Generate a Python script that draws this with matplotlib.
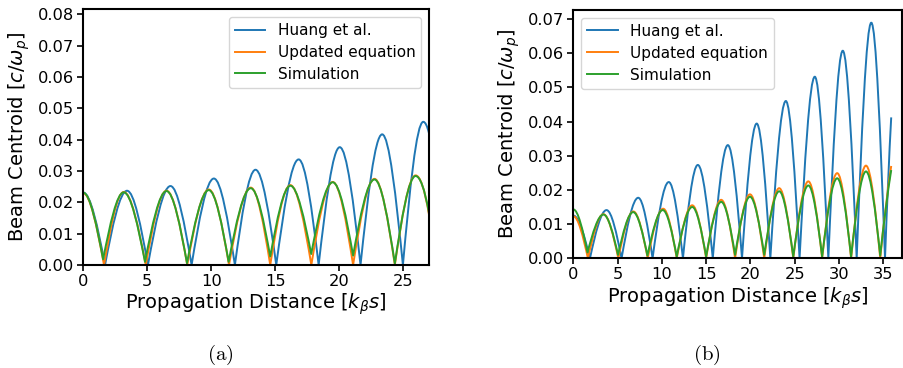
import matplotlib
matplotlib.use('Agg')
import matplotlib.pyplot as plt
from matplotlib.path import Path
from matplotlib.patches import PathPatch
from matplotlib.lines import Line2D
from matplotlib.ticker import FormatStrFormatter
import numpy as np

plt.rcParams['mathtext.fontset'] = 'dejavusans'
plt.rcParams['font.family'] = ['DejaVu Sans']

labels = ['Huang et al.', 'Updated equation', 'Simulation']
colors = ['#1f77b4', '#ff7f0e', '#2ca02c']

# ---- Panel (a): alternating extrema (peak, minimum, peak, ...); last point = end of data
a_huang_x = [0, 1.7, 3.42, 5.05, 6.81, 8.46, 10.2, 11.84, 13.45, 15.07, 16.82, 18.38, 20.03, 21.65, 23.34, 24.96, 26.55, 27.0]
a_huang_y = [0.0231, 0.0, 0.0237, 0.0, 0.0252, 0.0, 0.0276, 0.0, 0.0304, 0.0, 0.0337, 0.0, 0.0376, 0.0, 0.0417, 0.0, 0.0457, 0.0420]
a_upd_x = [0, 1.62, 3.16, 4.88, 6.5, 8.12, 9.8, 11.38, 13.08, 14.6, 16.17, 17.81, 19.48, 21.07, 22.74, 24.33, 25.95, 27.0]
a_upd_y = [0.0229, 0.0, 0.0233, 0.0, 0.0237, 0.0, 0.0241, 0.0, 0.0247, 0.0, 0.0255, 0.0, 0.0265, 0.0, 0.0275, 0.0, 0.0286, 0.0160]
a_sim_x = [0, 1.55, 3.16, 4.82, 6.5, 8.1, 9.8, 11.35, 13.08, 14.6, 16.17, 17.8, 19.48, 21.07, 22.74, 24.33, 25.95, 27.0]
a_sim_y = [0.0231, 0.0018, 0.0232, 0.0010, 0.0236, 0.0006, 0.0239, 0.0010, 0.0245, 0.0027, 0.0253, 0.0035, 0.0264, 0.0030, 0.0273, 0.0005, 0.0284, 0.0165]

# ---- Panel (b)
b_huang_x = [0, 1.88, 3.75, 5.45, 7.33, 8.95, 10.78, 12.38, 14.06, 15.75, 17.45, 19.05, 20.71, 22.25, 24.0, 25.55, 27.27, 28.8, 30.43, 32.0, 33.65, 35.2, 35.9]
b_huang_y = [0.0125, 0.0, 0.0141, 0.0, 0.0177, 0.0, 0.0223, 0.0, 0.0273, 0.0, 0.0331, 0.0, 0.0394, 0.0, 0.0460, 0.0, 0.0531, 0.0, 0.0607, 0.0, 0.0689, 0.0, 0.0412]
b_upd_x = [0, 1.65, 3.4, 5.08, 6.78, 8.4, 10.15, 11.68, 13.43, 15.0, 16.7, 18.27, 19.95, 21.56, 23.25, 24.84, 26.54, 28.1, 29.8, 31.37, 33.05, 34.66, 35.9]
b_upd_y = [0.0123, 0.0, 0.0129, 0.0, 0.0137, 0.0, 0.0145, 0.0, 0.0155, 0.0, 0.0171, 0.0, 0.0187, 0.0, 0.0205, 0.0, 0.0225, 0.0, 0.0249, 0.0, 0.0271, 0.0, 0.0270]
b_sim_x = [0, 1.6, 3.4, 5.05, 6.76, 8.37, 10.1, 11.68, 13.43, 15.0, 16.7, 18.27, 19.95, 21.56, 23.25, 24.84, 26.54, 28.1, 29.8, 31.37, 33.05, 34.66, 35.9]
b_sim_y = [0.0143, 0.0017, 0.0128, 0.0010, 0.0135, 0.0008, 0.0141, 0.0005, 0.0150, 0.0005, 0.0165, 0.0010, 0.0180, 0.0010, 0.0196, 0.0005, 0.0213, 0.0005, 0.0234, 0.0005, 0.0254, 0.0008, 0.0258]

a_xticks = [0, 5, 10, 15, 20, 25]
a_yticks = [0.00, 0.01, 0.02, 0.03, 0.04, 0.05, 0.06, 0.07, 0.08]
b_xticks = [0, 5, 10, 15, 20, 25, 30, 35]
b_yticks = [0.00, 0.01, 0.02, 0.03, 0.04, 0.05, 0.06, 0.07]


def arc_path(xs, ys):
    """Smooth Bezier path through alternating extrema (even index = peak, odd = minimum)."""
    n = len(xs)
    verts = [(xs[0], ys[0])]
    codes = [Path.MOVETO]
    for i in range(n - 1):
        x0, y0, x1, y1 = xs[i], ys[i], xs[i + 1], ys[i + 1]
        h = x1 - x0
        if i + 1 < n - 1:
            if i % 2 == 0:   # peak -> minimum
                m0 = 0.0
                m1 = -np.pi / 2 * (y0 - y1) / h
            else:            # minimum -> peak
                m0 = np.pi / 2 * (y1 - y0) / h
                m1 = 0.0
        else:
            sec = (y1 - y0) / h
            if i % 2 == 0:
                m0 = 0.0
            else:
                m0 = np.pi / 2 * (ys[i - 1] - y0) / (x0 - xs[i - 1])
            m1 = 2 * sec - m0
        verts += [(x0 + h / 3, y0 + m0 * h / 3), (x1 - h / 3, y1 - m1 * h / 3), (x1, y1)]
        codes += [Path.CURVE4, Path.CURVE4, Path.CURVE4]
    return Path(verts, codes)


fig = plt.figure(figsize=(9.04, 3.68), dpi=100)
ax_a = fig.add_axes([0.0921, 0.2799, 0.4746 - 0.0921, 0.9747 - 0.2799])
ax_b = fig.add_axes([0.6342, 0.2981, 0.9981 - 0.6342, 0.9728 - 0.2981])

panels = [
    (ax_a, [(a_huang_x, a_huang_y), (a_upd_x, a_upd_y), (a_sim_x, a_sim_y)],
     (0, 27), (0, 0.0816), a_xticks, a_yticks, 'upper right'),
    (ax_b, [(b_huang_x, b_huang_y), (b_upd_x, b_upd_y), (b_sim_x, b_sim_y)],
     (0, 37.15), (0, 0.0726), b_xticks, b_yticks, 'upper left'),
]

for ax, series, xl, yl, xt, yt, loc in panels:
    for (xs, ys), c in zip(series, colors):
        patch = PathPatch(arc_path(xs, ys), facecolor='none', edgecolor=c,
                          lw=1.4, joinstyle='round', capstyle='butt')
        ax.add_patch(patch)
    ax.set_xlim(*xl)
    ax.set_ylim(*yl)
    ax.set_xticks(xt)
    ax.set_yticks(yt)
    ax.yaxis.set_major_formatter(FormatStrFormatter('%.2f'))
    ax.tick_params(labelsize=11.7, width=1.2, length=4, pad=2.5)
    for s in ax.spines.values():
        s.set_linewidth(1.5)
    ax.set_xlabel(r'Propagation Distance [$k_\beta s$]', fontsize=14, labelpad=2)
    ax.set_ylabel(r'Beam Centroid [$c/\omega_p$]', fontsize=14, labelpad=4)
    handles = [Line2D([], [], color=c, lw=1.4) for c in colors]
    ax.legend(handles, labels, loc=loc, fontsize=11.0, labelspacing=0.45)

fig.text(0.2434, 1 - 355 / 368, r'$\mathrm{(a)}$', math_fontfamily='cm',
         fontsize=15, ha='center', va='center')
fig.text(0.7817, 1 - 355 / 368, r'$\mathrm{(b)}$', math_fontfamily='cm',
         fontsize=15, ha='center', va='center')

fig.savefig('out.png', dpi=100)
